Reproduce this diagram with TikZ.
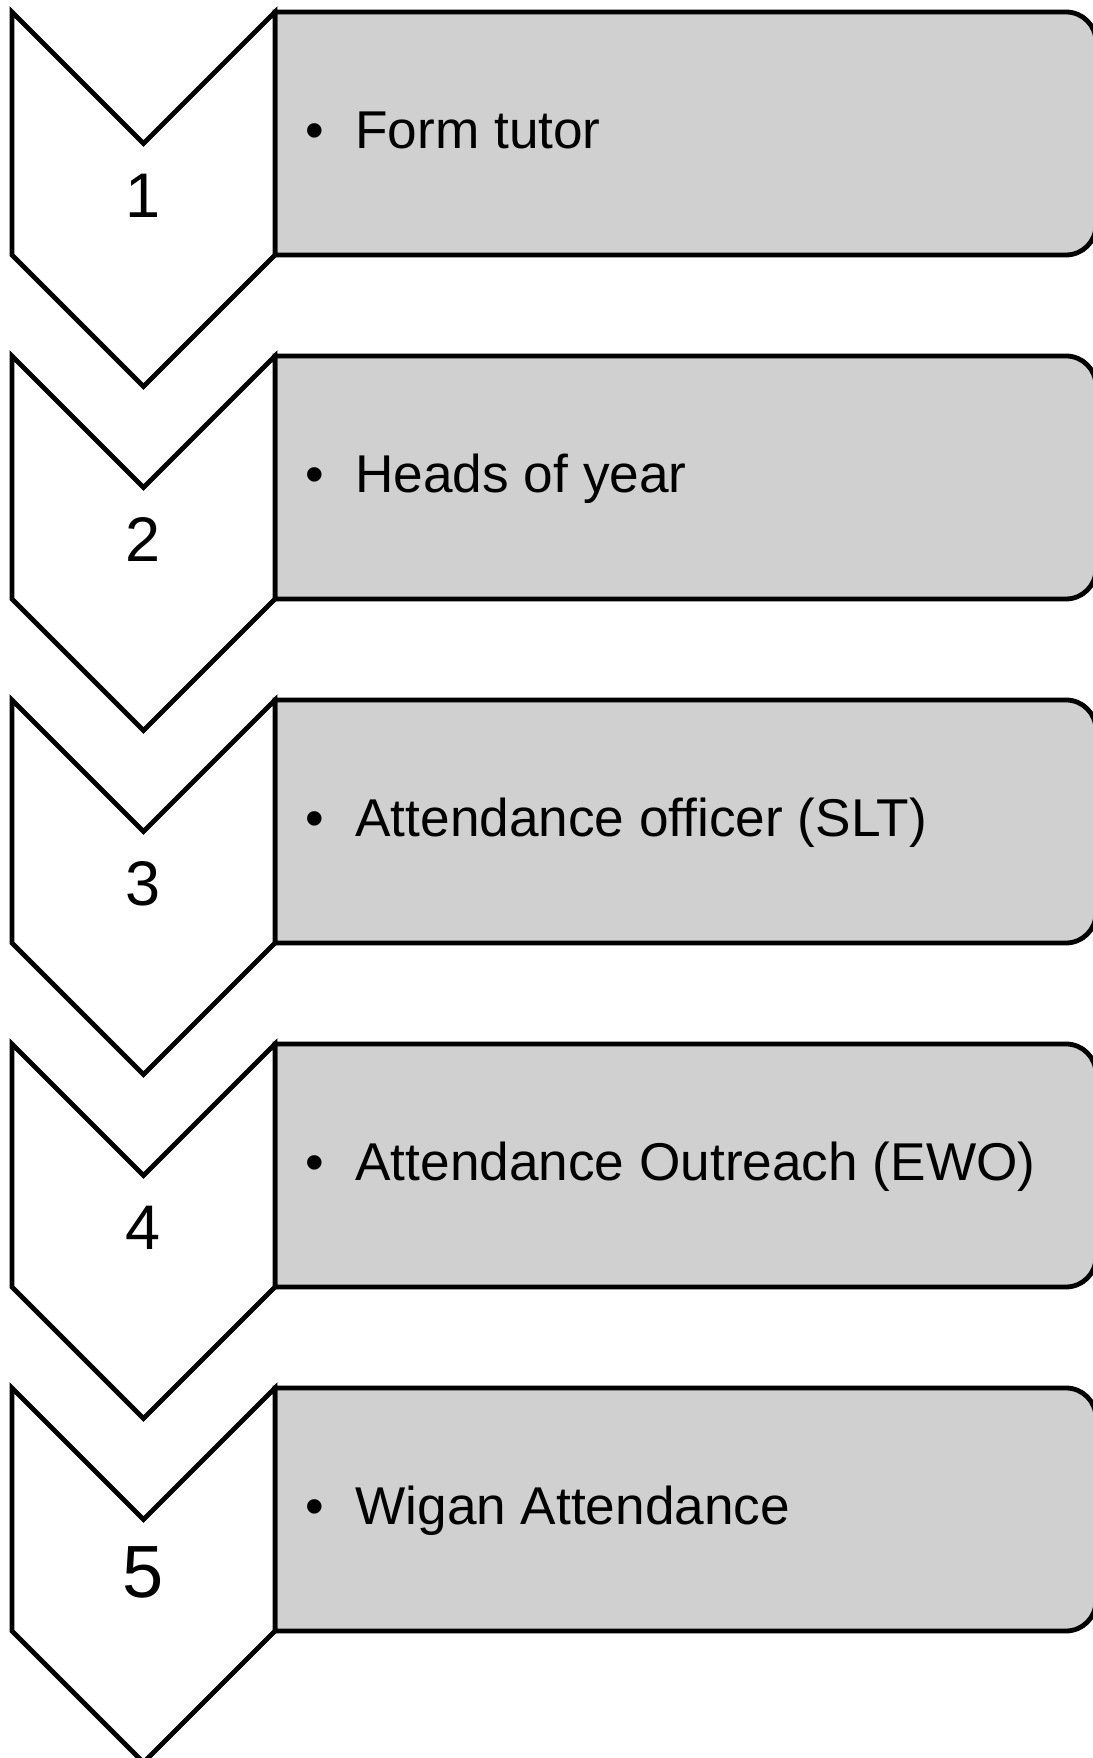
\documentclass[tikz,border=0pt]{standalone}
\usepackage{fontspec}
\setmainfont{Liberation Sans}
\definecolor{boxgray}{HTML}{D0D0D0}
\begin{document}
\begin{tikzpicture}[x=0.5pt,y=0.5pt,line width=2.4pt,line join=miter,
  chev/.style={draw=black,fill=white},
  stepbox/.style={draw=black,fill=boxgray},
  num/.style={font=\fontsize{31.5}{36}\selectfont,inner sep=0pt,anchor=center},
  bignum/.style={font=\fontsize{37}{42}\selectfont,inner sep=0pt,anchor=center},
  bul/.style={font=\fontsize{26.6}{32}\selectfont,inner sep=0pt,anchor=base},
  item/.style={font=\fontsize{26.6}{32}\selectfont,inner sep=0pt,anchor=base west}]
\useasboundingbox (0,0) rectangle (1093,1758);
\foreach \i/\n/\txt in {0/1/Form tutor,1/2/Heads of year,2/3/Attendance officer (SLT),3/4/Attendance Outreach (EWO),4/5/Wigan Attendance}{
  \pgfmathsetmacro\T{1746-344*\i}
  \pgfmathsetmacro\B{\T-243}
  \pgfmathsetmacro\Bc{\T-213}
  \pgfmathsetmacro\N{\T-131.5}
  \pgfmathsetmacro\P{\T-374.5}
  \pgfmathsetmacro\C{1758-196-344*\i}
  \pgfmathsetmacro\L{1609-344*\i}
  % grey box with rounded right corners
  \draw[stepbox] (275,\B) -- (275,\T) -- (1066,\T)
     arc[start angle=90,end angle=0,radius=15pt] -- (1096,\Bc)
     arc[start angle=0,end angle=-90,radius=15pt] -- cycle;
  % chevron
  \draw[chev] (12,\T) -- (143.5,\N) -- (275,\T) -- (275,\B) -- (143.5,\P) -- (12,\B) -- cycle;
  \ifnum\n=5
    \node[bignum] (num\n) at (143.5,\C) {\n};
  \else
    \node[num] (num\n) at (143.5,\C) {\n};
  \fi
  \node[bul] (bul\n) at (315,\L) {•};
  \node[item] (txt\n) at (353,\L) {\txt};
}
\end{tikzpicture}
\end{document}
